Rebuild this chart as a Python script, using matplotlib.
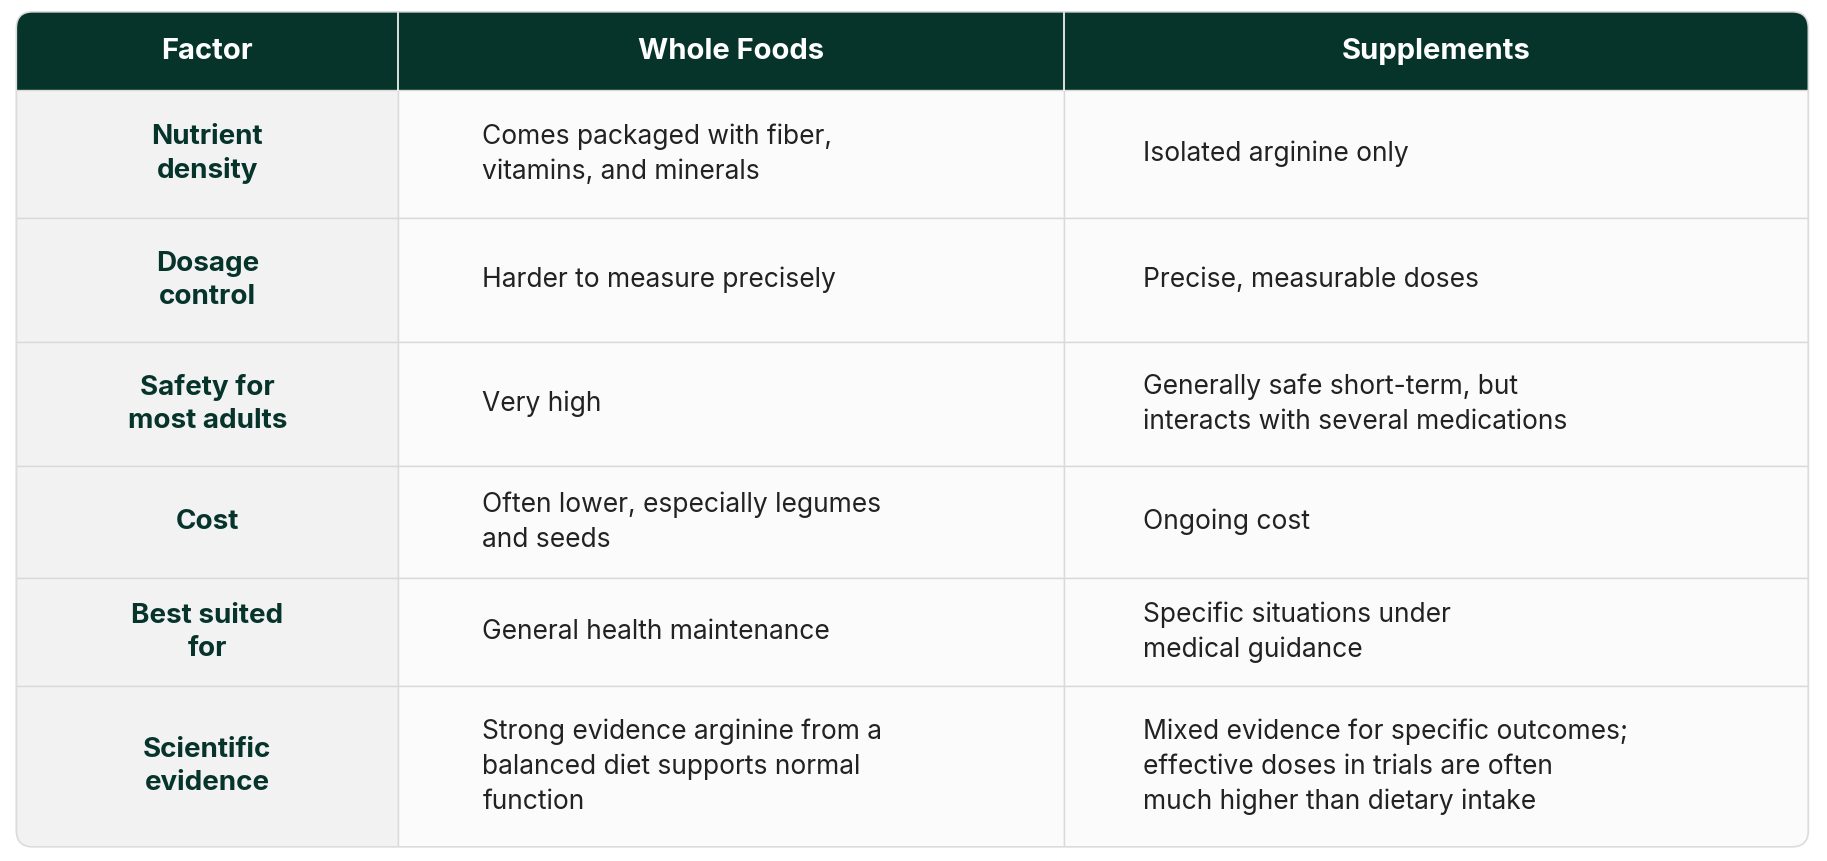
import matplotlib.pyplot as plt
from matplotlib.patches import FancyBboxPatch, Rectangle

headers = ['Factor', 'Whole Foods', 'Supplements']
factors = ['Nutrient\ndensity', 'Dosage\ncontrol', 'Safety for\nmost adults', 'Cost',
           'Best suited\nfor', 'Scientific\nevidence']
whole_foods = ['Comes packaged with fiber,\nvitamins, and minerals',
               'Harder to measure precisely',
               'Very high',
               'Often lower, especially legumes\nand seeds',
               'General health maintenance',
               'Strong evidence arginine from a\nbalanced diet supports normal\nfunction']
supplements = ['Isolated arginine only',
               'Precise, measurable doses',
               'Generally safe short-term, but\ninteracts with several medications',
               'Ongoing cost',
               'Specific situations under\nmedical guidance',
               'Mixed evidence for specific outcomes;\neffective doses in trials are often\nmuch higher than dietary intake']

W, H = 1568, 730
col_x = [14, 342, 913, 1552]
row_y = [10, 76, 185, 290, 395, 490, 582, 718]

plt.rcParams['font.family'] = ['Inter', 'DejaVu Sans']
fig = plt.figure(figsize=(18.27, 8.61), dpi=100)
ax = fig.add_axes([0, 0, 1, 1])
ax.set_xlim(0, W); ax.set_ylim(H, 0); ax.axis('off')

clip = FancyBboxPatch((col_x[0], row_y[0]), col_x[-1] - col_x[0], row_y[-1] - row_y[0],
                      boxstyle='round,pad=0,rounding_size=14', fc='none', ec='#dcdcdc', lw=1.2, zorder=5)
ax.add_patch(clip)

green = '#06342a'
hdr = Rectangle((col_x[0], row_y[0]), col_x[-1] - col_x[0], row_y[1] - row_y[0], fc=green, ec='none')
ax.add_patch(hdr); hdr.set_clip_path(clip)
for i, h in enumerate(headers):
    ax.text((col_x[i] + col_x[i + 1]) / 2, (row_y[0] + row_y[1]) / 2 + 1, h, color='white',
            fontsize=21, fontweight='bold', ha='center', va='center')

for r in range(len(factors)):
    y0, y1 = row_y[r + 1], row_y[r + 2]
    for c, fc in enumerate(['#f1f2f1', '#fbfbfb', '#fbfbfb']):
        p = Rectangle((col_x[c], y0), col_x[c + 1] - col_x[c], y1 - y0, fc=fc, ec='#d9d9d9', lw=1)
        ax.add_patch(p); p.set_clip_path(clip)
    ym = (y0 + y1) / 2
    ax.text((col_x[0] + col_x[1]) / 2, ym, factors[r], color=green, fontsize=20, fontweight='bold',
            ha='center', va='center', linespacing=1.35)
    ax.text(414, ym, whole_foods[r], color='#222222', fontsize=19, ha='left', va='center', linespacing=1.45)
    ax.text(981, ym, supplements[r], color='#222222', fontsize=19, ha='left', va='center', linespacing=1.45)

for x in col_x[1:-1]:
    ax.plot([x, x], [row_y[0], row_y[1]], color='white', lw=1.2, zorder=4)

fig.savefig('out.png', dpi=100, facecolor='white')
